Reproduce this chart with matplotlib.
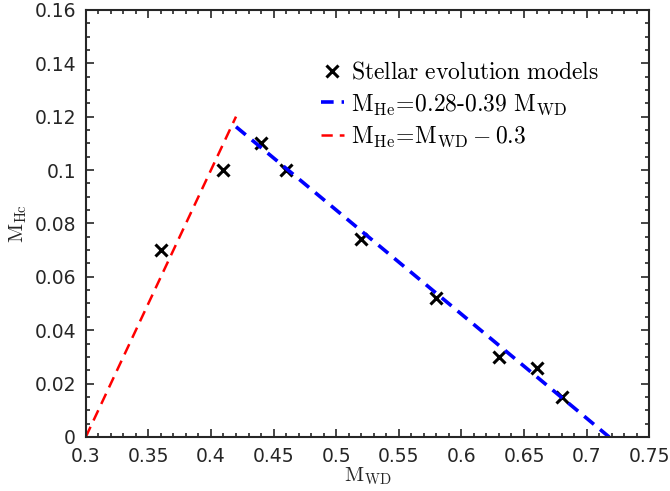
import matplotlib
matplotlib.use("Agg")
import matplotlib.pyplot as plt
from matplotlib.ticker import MultipleLocator

plt.rcParams['mathtext.fontset'] = 'cm'

# Data
model_mwd = [0.36, 0.41, 0.44, 0.46, 0.52, 0.58, 0.63, 0.66, 0.68]
model_mhe = [0.070, 0.100, 0.110, 0.100, 0.074, 0.052, 0.030, 0.026, 0.015]

blue_x = [0.42, 0.718]
blue_y = [0.1162, 0.0]
red_x = [0.30, 0.42]
red_y = [0.0, 0.12]

xticks = [0.3, 0.35, 0.4, 0.45, 0.5, 0.55, 0.6, 0.65, 0.7, 0.75]
xtick_labels = ['0.3', '0.35', '0.4', '0.45', '0.5', '0.55', '0.6', '0.65', '0.7', '0.75']
yticks = [0, 0.02, 0.04, 0.06, 0.08, 0.1, 0.12, 0.14, 0.16]
ytick_labels = ['0', '0.02', '0.04', '0.06', '0.08', '0.1', '0.12', '0.14', '0.16']

fig = plt.figure(figsize=(6.70, 4.91), dpi=100)
ax = fig.add_axes([0.128, 0.110, 0.841, 0.870])

ax.plot(model_mwd, model_mhe, linestyle='none', marker='x', color='black',
        markersize=9, markeredgewidth=2.2,
        label=r'$\mathrm{Stellar\ evolution\ models}$')
ax.plot(blue_x, blue_y, linestyle=(0, (3.5, 2.2)), color='blue', linewidth=2.6,
        label=r'$\mathrm{M_{He}\!=\!0.28\text{-}0.39\ M_{WD}}$')
ax.plot(red_x, red_y, linestyle=(0, (4.5, 2.8)), color='red', linewidth=1.8,
        label=r'$\mathrm{M_{He}\!=\!M_{WD}} - 0.3$')

ax.set_xlim(0.3, 0.75)
ax.set_ylim(0, 0.16)
ax.set_xticks(xticks)
ax.set_xticklabels(xtick_labels)
ax.set_yticks(yticks)
ax.set_yticklabels(ytick_labels)
ax.xaxis.set_minor_locator(MultipleLocator(0.01))
ax.yaxis.set_minor_locator(MultipleLocator(0.005))
ax.tick_params(which='both', direction='in', top=True, right=True, labelsize=13.5,
               colors='#262626', width=1.2)
ax.tick_params(which='major', length=6)
ax.tick_params(which='minor', length=3)
ax.tick_params(axis='x', which='major', pad=7)
ax.tick_params(axis='y', which='major', pad=7)
for s in ax.spines.values():
    s.set_linewidth(1.5)
    s.set_color('#262626')

ax.set_xlabel(r'$\mathrm{M_{WD}}$', fontsize=15, color='#262626', labelpad=0)
ax.set_ylabel(r'$\mathrm{M_{Hc}}$', fontsize=15, color='#262626', labelpad=4)

ax.legend(loc='upper left', bbox_to_anchor=(0.40, 0.905), frameon=False,
          fontsize=17, handlelength=1.0, handletextpad=0.3, labelspacing=0.32,
          borderaxespad=0)

fig.savefig('out.png', dpi=100)
